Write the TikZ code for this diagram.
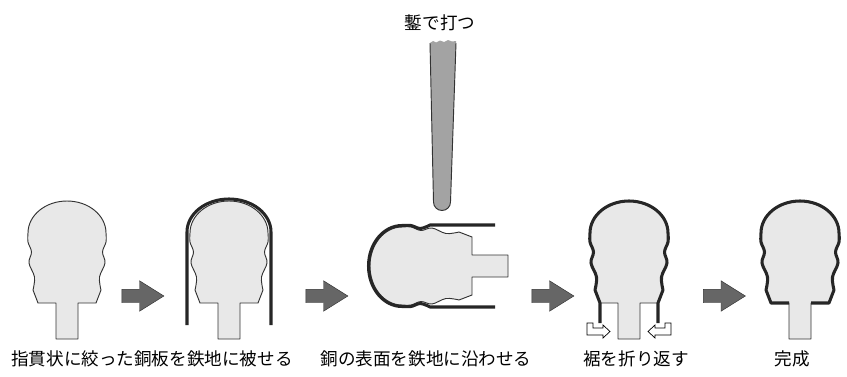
\documentclass[tikz,border=0pt]{standalone}
\usepackage{fontspec}
\newfontfamily\jpfont{Noto Sans CJK JP}
\usepackage{tikz}
\usetikzlibrary{shapes.arrows}

\newcommand{\headprofile}{-- (-34,13) -- plot[smooth,tension=.6] coordinates {(-34,13) (-32.5,26) (-38,40) (-35.5,51) (-39,61) (-39,70)} arc[start angle=180,end angle=0,x radius=39,y radius=32] -- plot[smooth,tension=.6] coordinates {(39,70) (39,61) (35.5,51) (38,40) (32.5,26) (34,13)} -- (29,0)}
\newcommand{\mandrelpath}{(-11,-36) -- (-11,0) -- (-29,0) \headprofile -- (11,0) -- (11,-36) -- cycle}

\tikzset{
  mandrel/.style={fill=black!9, draw=black!80, line width=0.8pt, line join=round},
  sheet/.style={draw=black!85, line width=2.6pt, line join=round},
  pushstep/.style={single arrow, draw=black!80, fill=black!60, inner xsep=0pt, inner ysep=1.95mm, minimum height=12.6mm, single arrow head extend=2.55mm, single arrow tip angle=64},
  foldarrow/.style={draw=black, fill=white, line width=0.6pt, line join=miter},
  caption/.style={font=\jpfont\fontsize{15}{18}\selectfont, inner sep=0pt},
  chisel/.style={fill=black!36}
}

\begin{document}
\begin{tikzpicture}[x=0.3mm, y=0.3mm]
  \useasboundingbox (0,0) rectangle (847,376);

  \begin{scope}[shift={(67,73)}]
    \filldraw[mandrel] \mandrelpath;
  \end{scope}

  \begin{scope}[shift={(229,73)}]
    \filldraw[mandrel] \mandrelpath;
    \draw[sheet] (-42,-22) -- (-42,71) arc[start angle=180,end angle=0,x radius=42,y radius=33] -- (42,-22);
  \end{scope}

  \begin{scope}[shift={(472,110)}, rotate=90]
    \filldraw[mandrel] \mandrelpath;
    \draw[sheet] (41,-23) -- (41,42) -- plot[smooth,tension=.6] coordinates {(41,42) (37.5,51.5) (40.5,61) (40.5,70)} arc[start angle=0,end angle=180,x radius=40.5,y radius=33.5] -- plot[smooth,tension=.6] coordinates {(-40.5,70) (-40.5,61) (-37.5,51.5) (-41,42)} -- (-41,-23);
  \end{scope}

  \begin{scope}[shift={(629,73)}]
    \filldraw[mandrel] \mandrelpath;
    \draw[sheet] (-29,-20) -- (-29,0) \headprofile -- (29,-20);
    \filldraw[foldarrow] (-42,-20) -- (-36,-20) -- (-36,-25) -- (-26,-25) -- (-26,-22) -- (-19,-28.5) -- (-26,-35) -- (-26,-32) -- (-42,-32) -- cycle;
    \filldraw[foldarrow] (42,-20) -- (36,-20) -- (36,-25) -- (26,-25) -- (26,-22) -- (19,-28.5) -- (26,-35) -- (26,-32) -- (42,-32) -- cycle;
  \end{scope}

  \begin{scope}[shift={(800,73)}]
    \filldraw[mandrel] \mandrelpath;
    \draw[sheet] (-11,0) -- (-29,0) \headprofile -- (11,0);
  \end{scope}

  \fill[chisel] (430,333) -- (433,335) -- (436,333.5) -- (440,335.5) -- (444,334) -- (448,336) -- (452,334.5) -- (456,335) -- (456,333) -- (450.5,174) arc[start angle=0,end angle=-180,radius=8.5] -- cycle;
  \draw[black!80, line width=0.8pt] (430,333) -- (433.5,174) arc[start angle=180,end angle=360,radius=8.5] -- (456,333);

  \node[pushstep] (step1) at (137.5,80) {};
  \node[pushstep] (step2) at (321.5,80) {};
  \node[pushstep] (step3) at (547.5,80) {};
  \node[pushstep] (step4) at (719,80) {};

  \node[caption] (chiselcap) at (440,353) {鏨で打つ};
  \node[caption] (wrapcap) at (152,17) {指貫状に絞った銅板を鉄地に被せる};
  \node[caption] (presscap) at (426,17) {銅の表面を鉄地に沿わせる};
  \node[caption] (foldcap) at (636,17) {裾を折り返す};
  \node[caption] (donecap) at (792,17) {完成};
\end{tikzpicture}
\end{document}
